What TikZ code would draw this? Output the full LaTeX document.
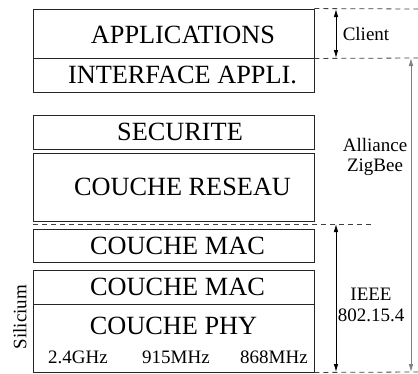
\documentclass[tikz,border=0pt]{standalone}
\usepackage{fontspec}
\setmainfont{Liberation Serif}
\newfontfamily\stackfont{Liberation Serif}
\usetikzlibrary{arrows.meta}

\begin{document}
\begin{tikzpicture}[x=1pt,y=-1pt,
  every node/.style={font=\stackfont\fontsize{19}{20.5}\selectfont},
  box/.style={draw=black!85,line width=0.9pt,minimum width=281pt,inner sep=0pt},
  layertxt/.style={font=\stackfont\fontsize{26.3}{28}\selectfont,inner sep=0pt},
  lbl/.style={align=center,inner sep=0pt},
  lim/.style={black!75,dash pattern=on 5pt off 4pt,line width=0.8pt},
  ar/.style={{Latex[length=8pt,width=4.5pt]}-{Latex[length=8pt,width=4.5pt]},line width=0.8pt}]
\useasboundingbox (0,0) rectangle (418,373);
% the stack
\node[box,minimum height=49pt] (app) at (173.5,33.5) {};
\node[box,minimum height=34pt] (iface) at (173.5,75) {};
\node[box,minimum height=34pt] (secu) at (173.5,132) {};
\node[box,minimum height=68pt] (res) at (173.5,187) {};
\node[box,minimum height=33pt] (mac1) at (173.5,245.5) {};
\node[box,minimum height=34pt] (mac2) at (173.5,287) {};
\node[box,minimum height=68pt] (phy) at (173.5,338) {};
\node[layertxt] (tapp) at (183,35) {APPLICATIONS};
\node[layertxt] (tiface) at (182.5,75) {INTERFACE APPLI.};
\node[layertxt] (tsecu) at (180,132) {SECURITE};
\node[layertxt] (tres) at (182.5,187) {COUCHE RESEAU};
\node[layertxt] (tmac1) at (177.5,245.5) {COUCHE MAC};
\node[layertxt] (tmac2) at (177.5,287) {COUCHE MAC};
\node[layertxt] (tphy) at (173.5,326) {COUCHE PHY};
\node[lbl] (f1) at (78,357) {2.4GHz};
\node[lbl] (f2) at (176,357) {915MHz};
\node[lbl] (f3) at (274,357) {868MHz};
\node[lbl,rotate=90] (sil) at (20,317) {Silicium};
% limits
\coordinate (l0) at (418,9);
\coordinate (l1) at (418,58);
\coordinate (l2a) at (33,224);
\coordinate (l2b) at (372,224);
\coordinate (l3) at (418,372);
\draw[lim] (app.north east) -- (l0);
\draw[lim] (app.south east) -- (l1);
\draw[lim] (l2a) -- (l2b);
\draw[lim] (phy.south east) -- (l3);
% extents
\coordinate (c1) at (336,9);
\coordinate (c2) at (336,58);
\coordinate (z1) at (411,58);
\coordinate (z2) at (411,372);
\coordinate (e1) at (336,224);
\coordinate (e2) at (336,372);
\draw[ar] (c1) -- (c2);
\draw[ar,black!50] (z1) -- (z2);
\draw[ar] (e1) -- (e2);
\node[lbl] (client) at (366,34) {Client};
\node[lbl] (zig) at (375,157) {Alliance\\ZigBee};
\node[lbl] (ieee) at (371,305) {IEEE\\802.15.4};
\end{tikzpicture}
\end{document}
